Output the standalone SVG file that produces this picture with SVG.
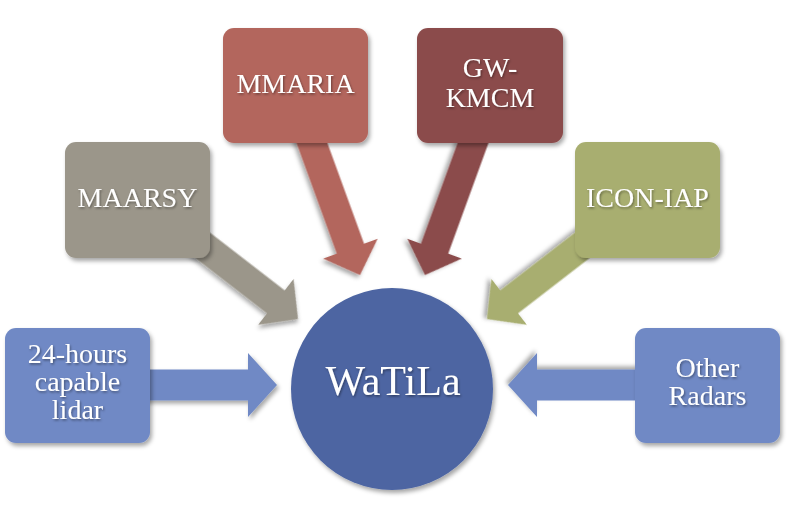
<svg xmlns="http://www.w3.org/2000/svg" width="800" height="516" viewBox="0 0 800 516">
  <defs>
    <filter id="sh" x="-20%" y="-20%" width="150%" height="150%">
      <feDropShadow dx="2" dy="3" stdDeviation="2.2" flood-color="#000" flood-opacity="0.35"/>
    </filter>
    <filter id="tsh" x="-10%" y="-10%" width="130%" height="140%">
      <feDropShadow dx="1" dy="1.5" stdDeviation="0.8" flood-color="#000" flood-opacity="0.4"/>
    </filter>
    <path id="arrD" d="M0,0 L-28,-29 L-28,-14.5 L-160,-14.5 L-160,14.5 L-28,14.5 L-28,29 Z"/>
    <path id="arrH" d="M0,0 L-29,-32 L-29,-15.5 L-140,-15.5 L-140,15.5 L-29,15.5 L-29,32 Z"/>
  </defs>
  <style>
    .lbl { font-family: "Liberation Serif", "Times New Roman", serif; font-size: 28px; fill: #ffffff; text-anchor: middle; filter: url(#tsh); }
    .big { font-size: 42px; }
    .box { filter: url(#sh); }
    .blue { fill: #7089c5; }
    .gray { fill: #9b968a; }
    .red { fill: #b3665d; }
    .maroon { fill: #8b4c4b; }
    .olive { fill: #a8ae6f; }
  </style>
  <rect x="0" y="0" width="800" height="516" fill="#ffffff"/>

  <g id="connectors">
    <use href="#arrD" class="box gray" transform="translate(298,319) rotate(37.7)"/>
    <use href="#arrD" class="box olive" transform="translate(487,319) rotate(142.3)"/>
    <use href="#arrD" class="box red" transform="translate(360,275) rotate(70)"/>
    <use href="#arrD" class="box maroon" transform="translate(425,275) rotate(110)"/>
    <use href="#arrH" class="box blue" transform="translate(277,385)"/>
    <use href="#arrH" class="box blue" transform="translate(508,385) rotate(180)"/>
  </g>

  <g id="node-watila">
    <circle cx="392" cy="389" r="101" fill="#4d65a2" class="box"/>
    <text class="lbl big" x="393" y="395">WaTiLa</text>
  </g>

  <g id="node-maarsy">
    <rect class="box gray" x="65" y="142" width="145" height="116" rx="11"/>
    <text class="lbl" x="137.5" y="207">MAARSY</text>
  </g>

  <g id="node-mmaria">
    <rect class="box red" x="223" y="28" width="145" height="115" rx="11"/>
    <text class="lbl" x="295.5" y="93">MMARIA</text>
  </g>

  <g id="node-gwkmcm">
    <rect class="box maroon" x="417" y="28" width="146" height="115" rx="11"/>
    <text class="lbl" x="490" y="77">GW-</text>
    <text class="lbl" x="490" y="107">KMCM</text>
  </g>

  <g id="node-iconiap">
    <rect class="box olive" x="575" y="142" width="145" height="116" rx="11"/>
    <text class="lbl" x="647.5" y="207">ICON-IAP</text>
  </g>

  <g id="node-lidar">
    <rect class="box blue" x="5" y="328" width="145" height="115" rx="11"/>
    <text class="lbl" x="77.5" y="363">24-hours</text>
    <text class="lbl" x="77.5" y="391">capable</text>
    <text class="lbl" x="77.5" y="419">lidar</text>
  </g>

  <g id="node-radars">
    <rect class="box blue" x="635" y="328" width="145" height="115" rx="11"/>
    <text class="lbl" x="707.5" y="377">Other</text>
    <text class="lbl" x="707.5" y="405">Radars</text>
  </g>
</svg>
